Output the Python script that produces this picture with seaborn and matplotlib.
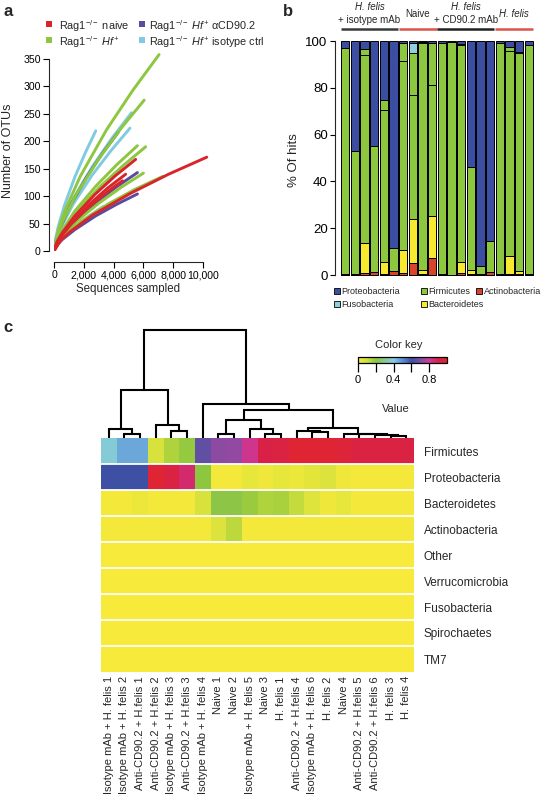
import numpy as np
import pandas as pd
import matplotlib
matplotlib.use('Agg')
import matplotlib.pyplot as plt
from matplotlib.colors import LinearSegmentedColormap
from matplotlib.patches import Rectangle
import seaborn as sns

# ---------------- panel a : rarefaction curves (sequences sampled -> OTUs)
naive_curves = [
    ([0, 410, 1025, 2560, 5125, 7690, 10250], [0, 18, 34, 65, 105, 140, 171]),
    ([0, 220, 548, 1370, 2740, 4110, 5480], [0, 18, 33, 63, 103, 137, 167]),
    ([0, 190, 481, 1200, 2405, 3610, 4810], [0, 15, 28, 53, 86, 115, 140]),
    ([0, 184, 460, 1150, 2300, 3450, 4600], [0, 13, 26, 49, 79, 105, 128]),
]
hf_curves = [
    ([0, 282, 705, 1760, 3525, 5290, 7050], [0, 38, 72, 136, 221, 293, 358]),
    ([0, 242, 605, 1510, 3025, 4540, 6050], [0, 29, 55, 104, 169, 225, 275]),
    ([0, 224, 560, 1400, 2800, 4200, 5600], [0, 20, 38, 73, 118, 157, 192]),
    ([0, 246, 615, 1540, 3075, 4610, 6150], [0, 20, 38, 72, 117, 155, 190]),
    ([0, 240, 600, 1500, 3000, 4500, 6000], [0, 15, 28, 54, 87, 116, 142]),
    ([0, 292, 730, 1825, 3650, 5475, 7300], [0, 14, 28, 54, 86, 113, 136]),
]
cd90_curves = [
    ([0, 172, 430, 1075, 2150, 3225, 4300], [0, 23, 43, 82, 133, 177, 216]),
    ([0, 224, 560, 1400, 2800, 4200, 5600], [0, 15, 29, 54, 88, 117, 143]),
    ([0, 224, 560, 1400, 2800, 4200, 5600], [0, 11, 21, 39, 64, 85, 104]),
    ([0, 168, 420, 1050, 2100, 3150, 4200], [0, 13, 24, 45, 74, 98, 120]),
]
iso_curves = [
    ([0, 112, 280, 700, 1400, 2100, 2800], [0, 23, 44, 83, 135, 179, 219]),
    ([0, 208, 520, 1300, 2600, 3900, 5200], [0, 26, 50, 96, 155, 206, 252]),
    ([0, 204, 510, 1275, 2550, 3825, 5100], [0, 24, 45, 85, 138, 183, 224]),
    ([0, 132, 330, 825, 1650, 2475, 3300], [0, 9, 16, 31, 50, 66, 81]),
]
group_colors = {'iso': '#7fcbe0', 'cd90': '#5b4b9f', 'hf': '#8dc63f', 'naive': '#d8252c'}
group_labels = {
    'naive': r'Rag1$^{-/-}$ naive',
    'hf': r'Rag1$^{-/-}$ $\mathit{Hf}^{+}$',
    'cd90': r'Rag1$^{-/-}$ $\mathit{Hf}^{+}$ αCD90.2',
    'iso': r'Rag1$^{-/-}$ $\mathit{Hf}^{+}$ isotype ctrl',
}
x_ticks_a = [0, 2000, 4000, 6000, 8000, 10000]
x_ticklabels_a = ['0', '2,000', '4,000', '6,000', '8,000', '10,000']
y_ticks_a = [0, 50, 100, 150, 200, 250, 300, 350]

# ---------------- panel b : stacked phylum composition (% of hits), 20 mice
actino = [0.6, 0.5, 1.0, 1.2, 0.5, 1.5, 0.7, 5.0, 0.5, 7.4,
          0.5, 0.0, 0.7, 0.5, 0.3, 1.2, 0.5, 0.3, 0.3, 0.3]
bactero = [0.0, 0.0, 12.5, 0.0, 4.9, 0.0, 9.8, 19.0, 1.5, 18.0,
           0.0, 0.0, 4.9, 1.5, 0.0, 0.0, 0.0, 8.0, 1.2, 0.0]
firm_a = [96.3, 52.6, 80.5, 54.1, 65.1, 9.9, 81.0, 53.0, 97.0, 55.8,
          98.5, 99.5, 92.5, 44.0, 3.7, 13.5, 98.5, 87.5, 93.5, 98.2]
firm_b = [0.0, 0.0, 2.4, 0.0, 4.3, 0.0, 7.8, 18.0, 0.5, 17.9,
          0.0, 0.0, 0.5, 0.0, 0.0, 0.0, 0.0, 1.8, 0.5, 0.0]
fuso = [0.0, 0.0, 0.0, 0.0, 0.0, 0.0, 0.0, 4.0, 0.0, 0.0,
        0.0, 0.0, 0.0, 0.0, 0.0, 0.0, 0.0, 0.0, 0.0, 0.0]
proteo = [3.1, 46.9, 3.6, 44.7, 25.2, 88.6, 0.7, 1.0, 0.5, 0.9,
          1.0, 0.5, 1.4, 54.0, 96.0, 85.3, 1.0, 2.4, 4.5, 1.5]
phylum_colors = {'Proteobacteria': '#3b4ea2', 'Firmicutes': '#8dc63f',
                 'Actinobacteria': '#d9432c', 'Fusobacteria': '#8fd0dc',
                 'Bacteroidetes': '#f6e92f'}
groups_b = [('H. felis', '+ isotype mAb', 0, 5, '#3a3a3a'),
            ('Naive', None, 6, 9, '#d9554c'),
            ('H. felis', '+ CD90.2 mAb', 10, 15, '#222222'),
            ('H. felis', None, 16, 19, '#d9554c')]

# ---------------- panel c : heatmap of relative abundance
hm_cols = ['Isotype mAb + H. felis 1', 'Isotype mAb + H. felis 2', 'Anti-CD90.2 + H.felis 1',
           'Anti-CD90.2 + H.felis 2', 'Isotype mAb + H. felis 3', 'Anti-CD90.2 + H.felis 3',
           'Isotype mAb + H. felis 4', 'Naive 1', 'Naive 2', 'Isotype mAb + H. felis 5',
           'Naive 3', 'H. felis 1', 'Anti-CD90.2 + H.felis 4', 'Isotype mAb + H. felis 6',
           'H. felis 2', 'Naive 4', 'Anti-CD90.2 + H.felis 5', 'Anti-CD90.2 + H.felis 6',
           'H. felis 3', 'H. felis 4']
hm_rows = ['Firmicutes', 'Proteobacteria', 'Bacteroidetes', 'Actinobacteria', 'Other',
           'Verrucomicrobia', 'Fusobacteria', 'Spirochaetes', 'TM7']
hm_firm = [0.38, 0.46, 0.46, 0.08, 0.15, 0.19, 0.66, 0.72, 0.73, 0.82,
           0.92, 0.93, 0.97, 0.97, 0.97, 0.96, 0.93, 0.93, 0.93, 0.93]
hm_proteo = [0.60, 0.60, 0.60, 0.97, 0.93, 0.86, 0.20, 0.01, 0.01, 0.04,
             0.02, 0.04, 0.03, 0.05, 0.07, 0.02, 0.01, 0.01, 0.01, 0.01]
hm_bactero = [0.01, 0.01, 0.03, 0.01, 0.01, 0.01, 0.08, 0.21, 0.21, 0.18,
              0.15, 0.16, 0.12, 0.06, 0.02, 0.04, 0.01, 0.01, 0.01, 0.01]
hm_actino = [0.01, 0.01, 0.01, 0.01, 0.01, 0.01, 0.01, 0.07, 0.13, 0.01,
             0.01, 0.01, 0.01, 0.01, 0.01, 0.01, 0.01, 0.01, 0.01, 0.01]
hm_other = [0.0, 0.0, 0.0, 0.0, 0.0, 0.0, 0.0, 0.0, 0.0, 0.0,
            0.0, 0.0, 0.0, 0.0, 0.0, 0.0, 0.0, 0.0, 0.0, 0.0]
hm_verruco = [0.0, 0.0, 0.0, 0.0, 0.0, 0.0, 0.0, 0.0, 0.0, 0.0,
              0.0, 0.0, 0.0, 0.0, 0.0, 0.0, 0.0, 0.0, 0.0, 0.0]
hm_fuso = [0.0, 0.0, 0.0, 0.0, 0.0, 0.0, 0.0, 0.0, 0.0, 0.0,
           0.0, 0.0, 0.0, 0.0, 0.0, 0.0, 0.0, 0.0, 0.0, 0.0]
hm_spiro = [0.0, 0.0, 0.0, 0.0, 0.0, 0.0, 0.0, 0.0, 0.0, 0.0,
            0.0, 0.0, 0.0, 0.0, 0.0, 0.0, 0.0, 0.0, 0.0, 0.0]
hm_tm7 = [0.0, 0.0, 0.0, 0.0, 0.0, 0.0, 0.0, 0.0, 0.0, 0.0,
          0.0, 0.0, 0.0, 0.0, 0.0, 0.0, 0.0, 0.0, 0.0, 0.0]
# column dendrogram: (left node, right node, height); leaves 0..19, new nodes from 20
col_merges = [(1, 2, 0.04), (0, 20, 0.09), (4, 5, 0.065), (3, 22, 0.13), (21, 23, 0.48),
              (7, 8, 0.04), (10, 11, 0.04), (9, 26, 0.087), (25, 27, 0.18),
              (13, 14, 0.058), (12, 29, 0.066), (18, 19, 0.023), (17, 31, 0.03),
              (16, 32, 0.036), (15, 33, 0.042), (30, 34, 0.10), (28, 35, 0.28),
              (6, 36, 0.337), (24, 37, 1.08)]
key_colors = ['#f7ea3b', '#cfe03c', '#8dc63f', '#84cbe6', '#5a8fd0', '#3d50a3',
              '#7a4fa3', '#cc3a9c', '#d62050', '#e3262a']
key_stops = [0.0, 0.1, 0.2, 0.4, 0.5, 0.6, 0.7, 0.8, 0.9, 1.0]

W, H = 544, 802


def rect(l, t, r, b):
    return [l / W, 1 - b / H, (r - l) / W, (b - t) / H]


def key_item(cx, cy, size, color, label, fontsize, gap, edge='none'):
    '''A square swatch plus its label, placed in figure pixels.'''
    fig.patches.append(Rectangle(((cx - size / 2) / W, 1 - (cy + size / 2) / H),
                                 size / W, size / H, transform=fig.transFigure,
                                 facecolor=color, edgecolor=edge, lw=0.6))
    fig.text((cx + size / 2 + gap) / W, 1 - cy / H, label, fontsize=fontsize,
             ha='left', va='center_baseline')


sns.set_theme(style='ticks')
plt.rcParams['font.family'] = ['Liberation Sans', 'DejaVu Sans']
plt.rcParams['mathtext.fontset'] = 'custom'
plt.rcParams['mathtext.rm'] = 'Liberation Sans'
plt.rcParams['mathtext.it'] = 'Liberation Sans:italic'
plt.rcParams['axes.linewidth'] = 0.8

fig = plt.figure(figsize=(W / 100, H / 100), dpi=100)

# ---- a
ax_a = fig.add_axes(rect(54, 53.5, 209, 251))
rows = []
for grp, curves in [('iso', iso_curves), ('cd90', cd90_curves), ('hf', hf_curves), ('naive', naive_curves)]:
    for k, (xs, ys) in enumerate(curves):
        for x, y in zip(xs, ys):
            rows.append({'group': grp, 'mouse': grp + str(k), 'seqs': x, 'otus': y})
rare = pd.DataFrame(rows)
sns.lineplot(data=rare, x='seqs', y='otus', hue='group', units='mouse', estimator=None,
             sort=False, palette=group_colors, hue_order=['iso', 'cd90', 'hf', 'naive'],
             linewidth=2.1, legend=False, ax=ax_a)
ax_a.set_xlim(0, 10400)
ax_a.set_ylim(0, 360)
sns.despine(ax=ax_a)
ax_a.spines['left'].set_position(('outward', 3.6))
ax_a.spines['bottom'].set_position(('outward', 8))
ax_a.spines['left'].set_bounds(0, 350)
ax_a.spines['bottom'].set_bounds(0, 10000)
ax_a.set_xticks(x_ticks_a)
ax_a.set_xticklabels(x_ticklabels_a)
ax_a.set_yticks(y_ticks_a)
ax_a.tick_params(labelsize=7.6, length=4.5, width=0.8, pad=1.5, colors='black')
ax_a.set_xlabel('Sequences sampled', fontsize=8.3)
ax_a.set_ylabel('Number of OTUs', fontsize=9)
ax_a.xaxis.set_label_coords(0.477, -0.162)
ax_a.yaxis.set_label_coords(-0.255, 0.506)
key_item(49, 24, 6.5, group_colors['naive'], group_labels['naive'], 7.8, 7)
key_item(49, 40, 6.5, group_colors['hf'], group_labels['hf'], 7.8, 7)
key_item(142, 24, 6.5, group_colors['cd90'], group_labels['cd90'], 7.8, 4)
key_item(142, 40, 6.5, group_colors['iso'], group_labels['iso'], 7.8, 4)

# ---- b
ax_b = fig.add_axes(rect(340, 41, 534, 275))
samples = [str(i + 1) for i in range(len(proteo))]
layers = [('Actinobacteria', actino), ('Bacteroidetes', bactero), ('Firmicutes', firm_a),
          ('Firmicutes', firm_b), ('Fusobacteria', fuso), ('Proteobacteria', proteo)]
cum = np.cumsum(np.array([v for _, v in layers]), axis=0)
for (name, _), tops in reversed(list(zip(layers, cum))):
    sns.barplot(x=samples, y=tops, order=samples, color=phylum_colors[name], saturation=1,
                width=0.86, edgecolor='black', linewidth=0.7, errorbar=None, ax=ax_b)
for p in ax_b.patches:
    p.set_clip_on(False)
ax_b.set_xlim(-0.55, 19.55)
ax_b.set_ylim(0, 100)
sns.despine(ax=ax_b, bottom=True)
ax_b.spines['left'].set_position(('outward', 3.6))
ax_b.spines['left'].set_bounds(0, 100)
ax_b.set_xticks([])
ax_b.set_xlabel('')
ax_b.set_yticks([0, 20, 40, 60, 80, 100])
ax_b.tick_params(axis='y', labelsize=9.5, length=3.8, width=0.8, pad=1.5, colors='black')
ax_b.set_ylabel('% Of hits', fontsize=9.5)
ax_b.yaxis.set_label_coords(-0.205, 0.49)
for title, sub, i0, i1, col in groups_b:
    ax_b.plot([i0 - 0.45, i1 + 0.45], [105.2, 105.2], color=col, lw=1.8,
              clip_on=False, solid_capstyle='butt')
    xc = (i0 + i1) / 2
    italic = 'italic' if title.startswith('H.') else 'normal'
    if sub:
        ax_b.text(xc, 114.4, title, ha='center', va='center', fontsize=7,
                  style=italic, clip_on=False)
        ax_b.text(xc, 109.0, sub, ha='center', va='center', fontsize=7, clip_on=False)
    else:
        ax_b.text(xc, 111.7, title, ha='center', va='center', fontsize=7,
                  style=italic, clip_on=False)
key_item(337, 291, 6, phylum_colors['Proteobacteria'], 'Proteobacteria', 6.5, 1.5, 'black')
key_item(424, 291, 6, phylum_colors['Firmicutes'], 'Firmicutes', 6.5, 1.5, 'black')
key_item(479, 291, 6, phylum_colors['Actinobacteria'], 'Actinobacteria', 6.5, 1.5, 'black')
key_item(337, 304, 6, phylum_colors['Fusobacteria'], 'Fusobacteria', 6.5, 1.5, 'black')
key_item(424, 304, 6, phylum_colors['Bacteroidetes'], 'Bacteroidetes', 6.5, 1.5, 'black')

# ---- c
hm = pd.DataFrame([hm_firm, hm_proteo, hm_bactero, hm_actino, hm_other, hm_verruco,
                   hm_fuso, hm_spiro, hm_tm7], index=hm_rows, columns=hm_cols)
cmap = LinearSegmentedColormap.from_list('key', list(zip(key_stops, key_colors)))
ax_h = fig.add_axes(rect(101, 438, 414, 672))
cax = fig.add_axes(rect(358, 357, 447, 363.5))
sns.heatmap(hm, cmap=cmap, vmin=0, vmax=1, ax=ax_h, cbar_ax=cax,
            cbar_kws={'orientation': 'horizontal'}, xticklabels=True, yticklabels=True)
for i in range(1, len(hm_rows)):
    ax_h.axhline(i, color='white', lw=1.3)
ax_h.yaxis.tick_right()
ax_h.tick_params(axis='y', length=0, pad=7, labelsize=8.5, labelrotation=0,
                 labelright=True, labelleft=False)
ax_h.tick_params(axis='x', length=0, pad=3, labelsize=8, labelrotation=90)
ax_h.set_xlabel('')
ax_h.set_ylabel('')
cb = ax_h.collections[0].colorbar
cb.set_ticks([0, 0.2, 0.4, 0.6, 0.8])
cb.set_ticklabels(['0', '', '0.4', '', '0.8'])
cb.outline.set_edgecolor('black')
cb.outline.set_linewidth(0.9)
cax.tick_params(length=6.5, width=0.9, labelsize=8, pad=1.5, colors='black')
fig.text(399 / W, 1 - 345 / H, 'Color key', ha='center', va='center', fontsize=8)
fig.text(396 / W, 1 - 409 / H, 'Value', ha='center', va='center', fontsize=8)

ax_d = fig.add_axes(rect(101, 325, 414, 438))
pos = {i: i + 0.5 for i in range(len(hm_cols))}
hgt = {i: 0.0 for i in range(len(hm_cols))}
for k, (a, b, h) in enumerate(col_merges):
    node = len(hm_cols) + k
    ax_d.plot([pos[a], pos[a], pos[b], pos[b]], [hgt[a], h, h, hgt[b]],
              color='black', lw=1.5, solid_joinstyle='miter')
    pos[node] = (pos[a] + pos[b]) / 2
    hgt[node] = h
ax_d.set_xlim(0, len(hm_cols))
ax_d.set_ylim(0, 1.13)
ax_d.axis('off')

for letter, (px, py) in [('a', (3, 11)), ('b', (283, 11)), ('c', (3, 327))]:
    fig.text(px / W, 1 - py / H, letter, fontsize=12, fontweight='bold',
             ha='left', va='center')

fig.savefig('out.png', dpi=100)
